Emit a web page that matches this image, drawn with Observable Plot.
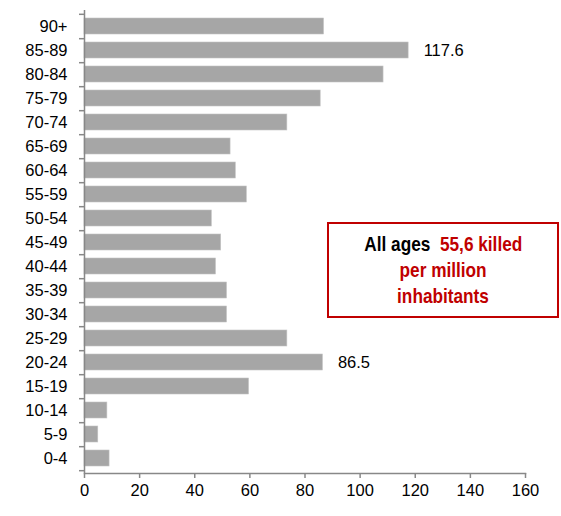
<!DOCTYPE html>
<html>
<head>
<meta charset="utf-8">
<script src="https://cdn.jsdelivr.net/npm/d3@7"></script>
<script src="https://cdn.jsdelivr.net/npm/@observablehq/plot@0.6"></script>
<style>
  html, body { margin: 0; padding: 0; background: #fff; }
  #wrap { position: relative; width: 561px; height: 516px; font-family: "Liberation Sans", Arial, sans-serif; }
  #note {
    position: absolute; left: 327px; top: 222px; width: 228px; height: 92px;
    border: 2px solid #c00000; background: #fff;
    display: flex; flex-direction: column; justify-content: center; align-items: center;
    font-family: "Liberation Sans", Arial, sans-serif;
    font-weight: bold; font-size: 21px; line-height: 26px; color: #c00000; text-align: center;
  }
  #note > div { transform: scaleX(0.82); white-space: nowrap; }
  #note .k { color: #000; }
</style>
</head>
<body>
<div id="wrap"></div>
<script>
const ageGroups = ["0-4","5-9","10-14","15-19","20-24","25-29","30-34","35-39","40-44","45-49","50-54","55-59","60-64","65-69","70-74","75-79","80-84","85-89","90+"];
const killedPerMillion = [9.1, 5.0, 8.3, 59.7, 86.5, 73.6, 51.7, 51.7, 47.7, 49.6, 46.2, 58.9, 54.9, 53.0, 73.6, 85.7, 108.5, 117.6, 86.9];
const labelledGroups = ["85-89", "20-24"];
const xTicks = [0, 20, 40, 60, 80, 100, 120, 140, 160];
const noteLines = [["All ages", "55,6 killed"], ["per million"], ["inhabitants"]];

const data = ageGroups.map((g, i) => ({group: g, value: killedPerMillion[i]}));
const domainTopDown = ageGroups.slice().reverse();

const W = 561, H = 516, mt = 10, mb = 43, ml = 84, mr = 36;
const step = (H - mt - mb) / ageGroups.length;
const axisGray = "#888888";
const fs = 16.5;

const chart = Plot.plot({
  width: W, height: H,
  marginTop: mt, marginBottom: mb, marginLeft: ml, marginRight: mr,
  style: {fontFamily: "'Liberation Sans', Arial, sans-serif", fontSize: fs + "px", color: "#000", background: "#fff"},
  x: {domain: [0, 160]},
  y: {domain: domainTopDown, paddingInner: 0.35, paddingOuter: 0.175, align: 0.5},
  marks: [
    Plot.barX(data, {x: "value", y: "group", fill: "#a6a6a6", stroke: "#c4c4c4", strokeWidth: 0.6}),
    Plot.text(data.filter(d => labelledGroups.includes(d.group)), {
      x: "value", y: "group", text: d => d.value.toFixed(1), textAnchor: "start", dx: 15, fontSize: fs, fill: "#000"
    }),
    Plot.ruleX([0], {stroke: axisGray, strokeWidth: 1.5}),
    Plot.frame({anchor: "bottom", stroke: axisGray, strokeWidth: 1.5}),
    Plot.axisY({tickSize: 0, tickPadding: 17, label: null, fontSize: fs, fill: "#000"}),
    Plot.axisY({tickSize: 5, text: null, label: null, dy: step / 2, stroke: axisGray, strokeWidth: 1.5}),
    Plot.axisY({ticks: ["90+"], tickSize: 5, text: null, label: null, dy: -step / 2, stroke: axisGray, strokeWidth: 1.5}),
    Plot.axisX({ticks: xTicks, tickSize: 5, tickPadding: 6, label: null, stroke: axisGray, strokeWidth: 1.5, fontSize: fs, fill: "#000"})
  ]
});

const wrap = document.getElementById("wrap");
wrap.appendChild(chart);
const note = document.createElement("div");
note.id = "note";
noteLines.forEach((parts, i) => {
  const line = document.createElement("div");
  if (parts.length === 2) {
    const a = document.createElement("span"); a.className = "k"; a.textContent = parts[0];
    const b = document.createElement("span"); b.textContent = "\u00a0\u00a0" + parts[1];
    line.appendChild(a); line.appendChild(b);
  } else line.textContent = parts[0];
  note.appendChild(line);
});
wrap.appendChild(note);
</script>
</body>
</html>
